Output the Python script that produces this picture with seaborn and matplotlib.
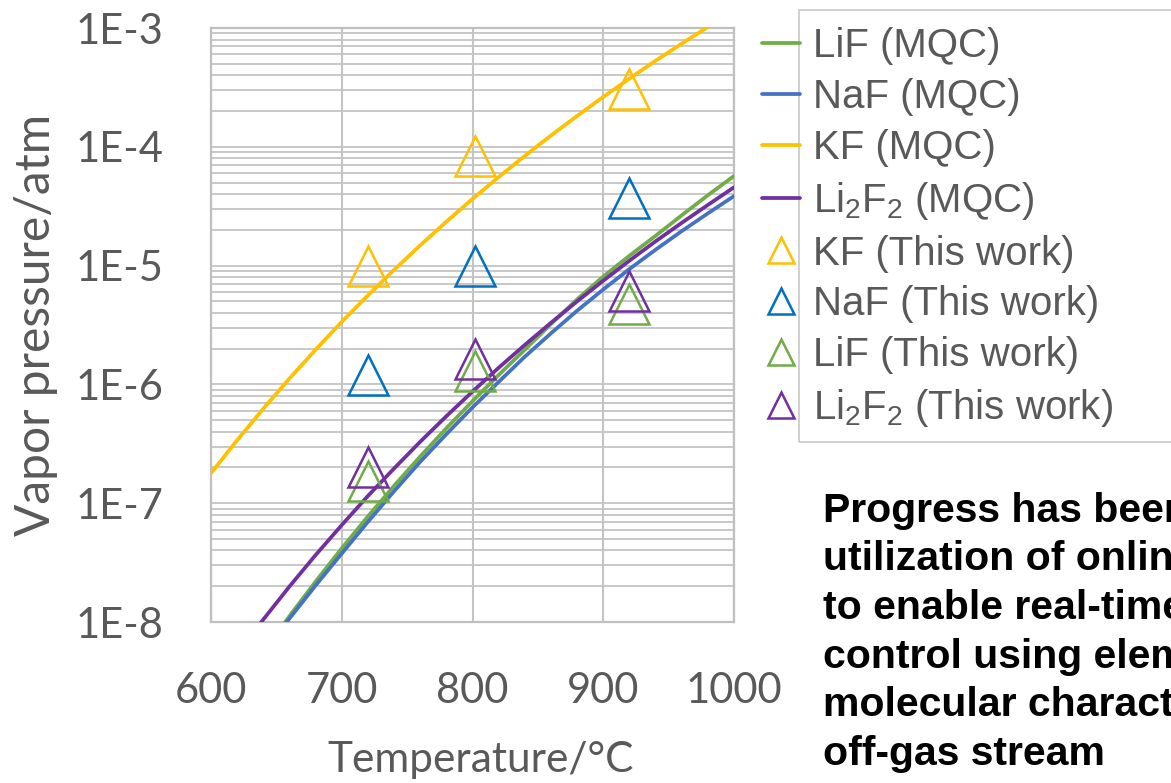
import numpy as np
import pandas as pd
import matplotlib
matplotlib.use("Agg")
import matplotlib.pyplot as plt
import seaborn as sns
from matplotlib.ticker import FuncFormatter, LogLocator, NullFormatter, MultipleLocator
from matplotlib.patches import Rectangle
from matplotlib.font_manager import FontProperties

# ---------------- data ----------------
temps_kf = [600, 620, 640, 660, 680, 700, 720, 740, 760, 780, 800,
            820, 840, 860, 880, 900, 920, 940, 960, 980, 1000]
kf_mqc = [1.79e-7, 3.39e-7, 6.25e-7, 1.12e-6, 1.96e-6, 3.36e-6, 5.61e-6,
          9.20e-6, 1.48e-5, 2.34e-5, 3.64e-5, 5.56e-5, 8.38e-5, 1.245e-4,
          1.82e-4, 2.63e-4, 3.75e-4, 5.30e-4, 7.38e-4, 1.02e-3, 1.39e-3]

temps_lif = [640, 660, 680, 700, 720, 740, 760, 780, 800, 820,
             840, 860, 880, 900, 920, 940, 960, 980, 1000]
lif_mqc = [5.57e-9, 1.12e-8, 2.19e-8, 4.17e-8, 7.73e-8, 1.40e-7, 2.47e-7,
           4.27e-7, 7.23e-7, 1.20e-6, 1.96e-6, 3.22e-6, 5.20e-6, 8.09e-6,
           1.21e-5, 1.78e-5, 2.65e-5, 3.91e-5, 5.68e-5]

temps_naf = [640, 660, 680, 700, 720, 740, 760, 780, 800, 820,
             840, 860, 880, 900, 920, 940, 960, 980, 1000]
naf_mqc = [5.46e-9, 1.07e-8, 2.03e-8, 3.77e-8, 6.97e-8, 1.26e-7, 2.23e-7,
           3.81e-7, 6.40e-7, 1.05e-6, 1.71e-6, 2.69e-6, 4.17e-6, 6.30e-6,
           9.35e-6, 1.36e-5, 1.95e-5, 2.75e-5, 3.85e-5]

temps_li2f2 = [620, 640, 660, 680, 700, 720, 740, 760, 780, 800, 820,
               840, 860, 880, 900, 920, 940, 960, 980, 1000]
li2f2_mqc = [5.45e-9, 1.05e-8, 1.99e-8, 3.66e-8, 6.55e-8, 1.15e-7, 1.96e-7,
             3.29e-7, 5.40e-7, 8.71e-7, 1.38e-6, 2.15e-6, 3.30e-6, 5.00e-6,
             7.46e-6, 1.10e-5, 1.60e-5, 2.29e-5, 3.24e-5, 4.56e-5]

temps_exp = [720, 802, 920]
kf_exp = [1.0e-5, 8.4e-5, 3.08e-4]
naf_exp = [1.19e-6, 1.0e-5, 3.68e-5]
lif_exp = [1.55e-7, 1.30e-6, 4.75e-6]
li2f2_exp = [2.02e-7, 1.64e-6, 6.1e-6]

x_ticks = [600, 700, 800, 900, 1000]
y_ticks = [1e-8, 1e-7, 1e-6, 1e-5, 1e-4, 1e-3]

side_text = ["Progress has been",
             "utilization of online",
             "to enable real-time",
             "control using elemental",
             "molecular characterization",
             "off-gas stream"]

# ---------------- style ----------------
sns.set_style("white")
plt.rcParams["font.family"] = ["Lato", "DejaVu Sans"]
plt.rcParams["mathtext.fontset"] = "custom"
plt.rcParams["mathtext.rm"] = "Liberation Sans"
plt.rcParams["mathtext.it"] = "Liberation Sans:italic"
plt.rcParams["mathtext.bf"] = "Liberation Sans:bold"

GREY_TXT = "#595959"
GRID = "#c4c4c4"
W, H = 1171, 783

fig = plt.figure(figsize=(W / 100, H / 100), dpi=100)
ax = fig.add_axes([211 / W, 1 - 622 / H, (734 - 211) / W, (622 - 28) / H])
ax.set_yscale("log")

LW = 2.7
curves = [
    ("LiF (MQC)", temps_lif, lif_mqc, "#70AD47"),
    ("NaF (MQC)", temps_naf, naf_mqc, "#4472C4"),
    ("KF (MQC)", temps_kf, kf_mqc, "#FFC000"),
    (r"Li$_\mathregular{2}$F$_\mathregular{2}$ (MQC)", temps_li2f2, li2f2_mqc, "#7030A0"),
]
for lab, tx, py, col in curves:
    d = pd.DataFrame({"T": tx, "P": py})
    sns.lineplot(data=d, x="T", y="P", color=col, lw=LW, label=lab,
                 estimator=None, sort=False, ax=ax, zorder=3)

points = [
    ("KF (This work)", kf_exp, "#FFC000"),
    ("NaF (This work)", naf_exp, "#0070C0"),
    ("LiF (This work)", lif_exp, "#70AD47"),
    (r"Li$_\mathregular{2}$F$_\mathregular{2}$ (This work)", li2f2_exp, "#7030A0"),
]
for lab, py, col in points:
    d = pd.DataFrame({"T": temps_exp, "P": py})
    sns.lineplot(data=d, x="T", y="P", color=col, label=lab, estimator=None,
                 linestyle="none", marker="^", markersize=29,
                 markerfacecolor="none", markeredgecolor=col,
                 markeredgewidth=1.8, ax=ax, zorder=4)

ax.set_xlim(600, 1000)
ax.set_ylim(1e-8, 1e-3)

# ticks & grid
ax.set_xticks(x_ticks)
ax.xaxis.set_minor_locator(MultipleLocator(20))
ax.set_yticks(y_ticks)
ax.yaxis.set_minor_locator(LogLocator(base=10, subs=range(2, 10), numticks=20))
ax.yaxis.set_minor_formatter(NullFormatter())
ax.yaxis.set_major_formatter(FuncFormatter(lambda v, p: "1E%d" % int(round(np.log10(v)))))

ax.grid(True, which="major", axis="x", color=GRID, lw=1.5)
ax.grid(True, which="both", axis="y", color=GRID, lw=1.3)
ax.set_axisbelow(True)

ax.tick_params(axis="both", which="major", labelsize=30, labelcolor=GREY_TXT,
               length=0, direction="in")
ax.tick_params(axis="y", which="major", pad=34)
ax.tick_params(axis="x", which="major", pad=36)
ax.tick_params(axis="both", which="minor", direction="in", length=8,
               width=1.4, color="#bfbfbf")
for s in ax.spines.values():
    s.set_color("#bfbfbf")
    s.set_linewidth(1.6)

ax.set_xlabel("Temperature/°C", fontsize=30.5, color=GREY_TXT)
ax.set_ylabel("Vapor pressure/atm", fontsize=34.5, color=GREY_TXT)
ax.xaxis.set_label_coords((481 - 211) / 523, -(741 - 622) / 594)
ax.yaxis.set_label_coords((58 - 211) / 523, 0.5)

# legend
handles, labels = ax.get_legend_handles_labels()
if ax.get_legend() is not None:
    ax.get_legend().remove()
leg_font = FontProperties(family="Liberation Sans", size=29)
fig.legend(handles, labels, loc="upper left",
           bbox_to_anchor=(762 / W, 1 - 27 / H), bbox_transform=fig.transFigure,
           frameon=False, borderpad=0, borderaxespad=0, prop=leg_font,
           handlelength=0.94, handletextpad=0.33, labelspacing=0.32,
           markerscale=0.65, labelcolor=GREY_TXT)
fig.patches.append(Rectangle((799 / W, 1 - 442 / H), 0.4, (442 - 10) / H,
                             transform=fig.transFigure, facecolor="none",
                             edgecolor="#c8c8c8", lw=1.2))

# side text (clipped by the right edge of the picture, as in the reference)
y0 = 521.7
for i, line in enumerate(side_text):
    fig.text(823 / W, 1 - (y0 + i * 48.6) / H, line, family="Liberation Sans",
             fontweight="bold", fontsize=29.5, color="black", va="baseline", ha="left")

fig.savefig("out.png", dpi=100)
